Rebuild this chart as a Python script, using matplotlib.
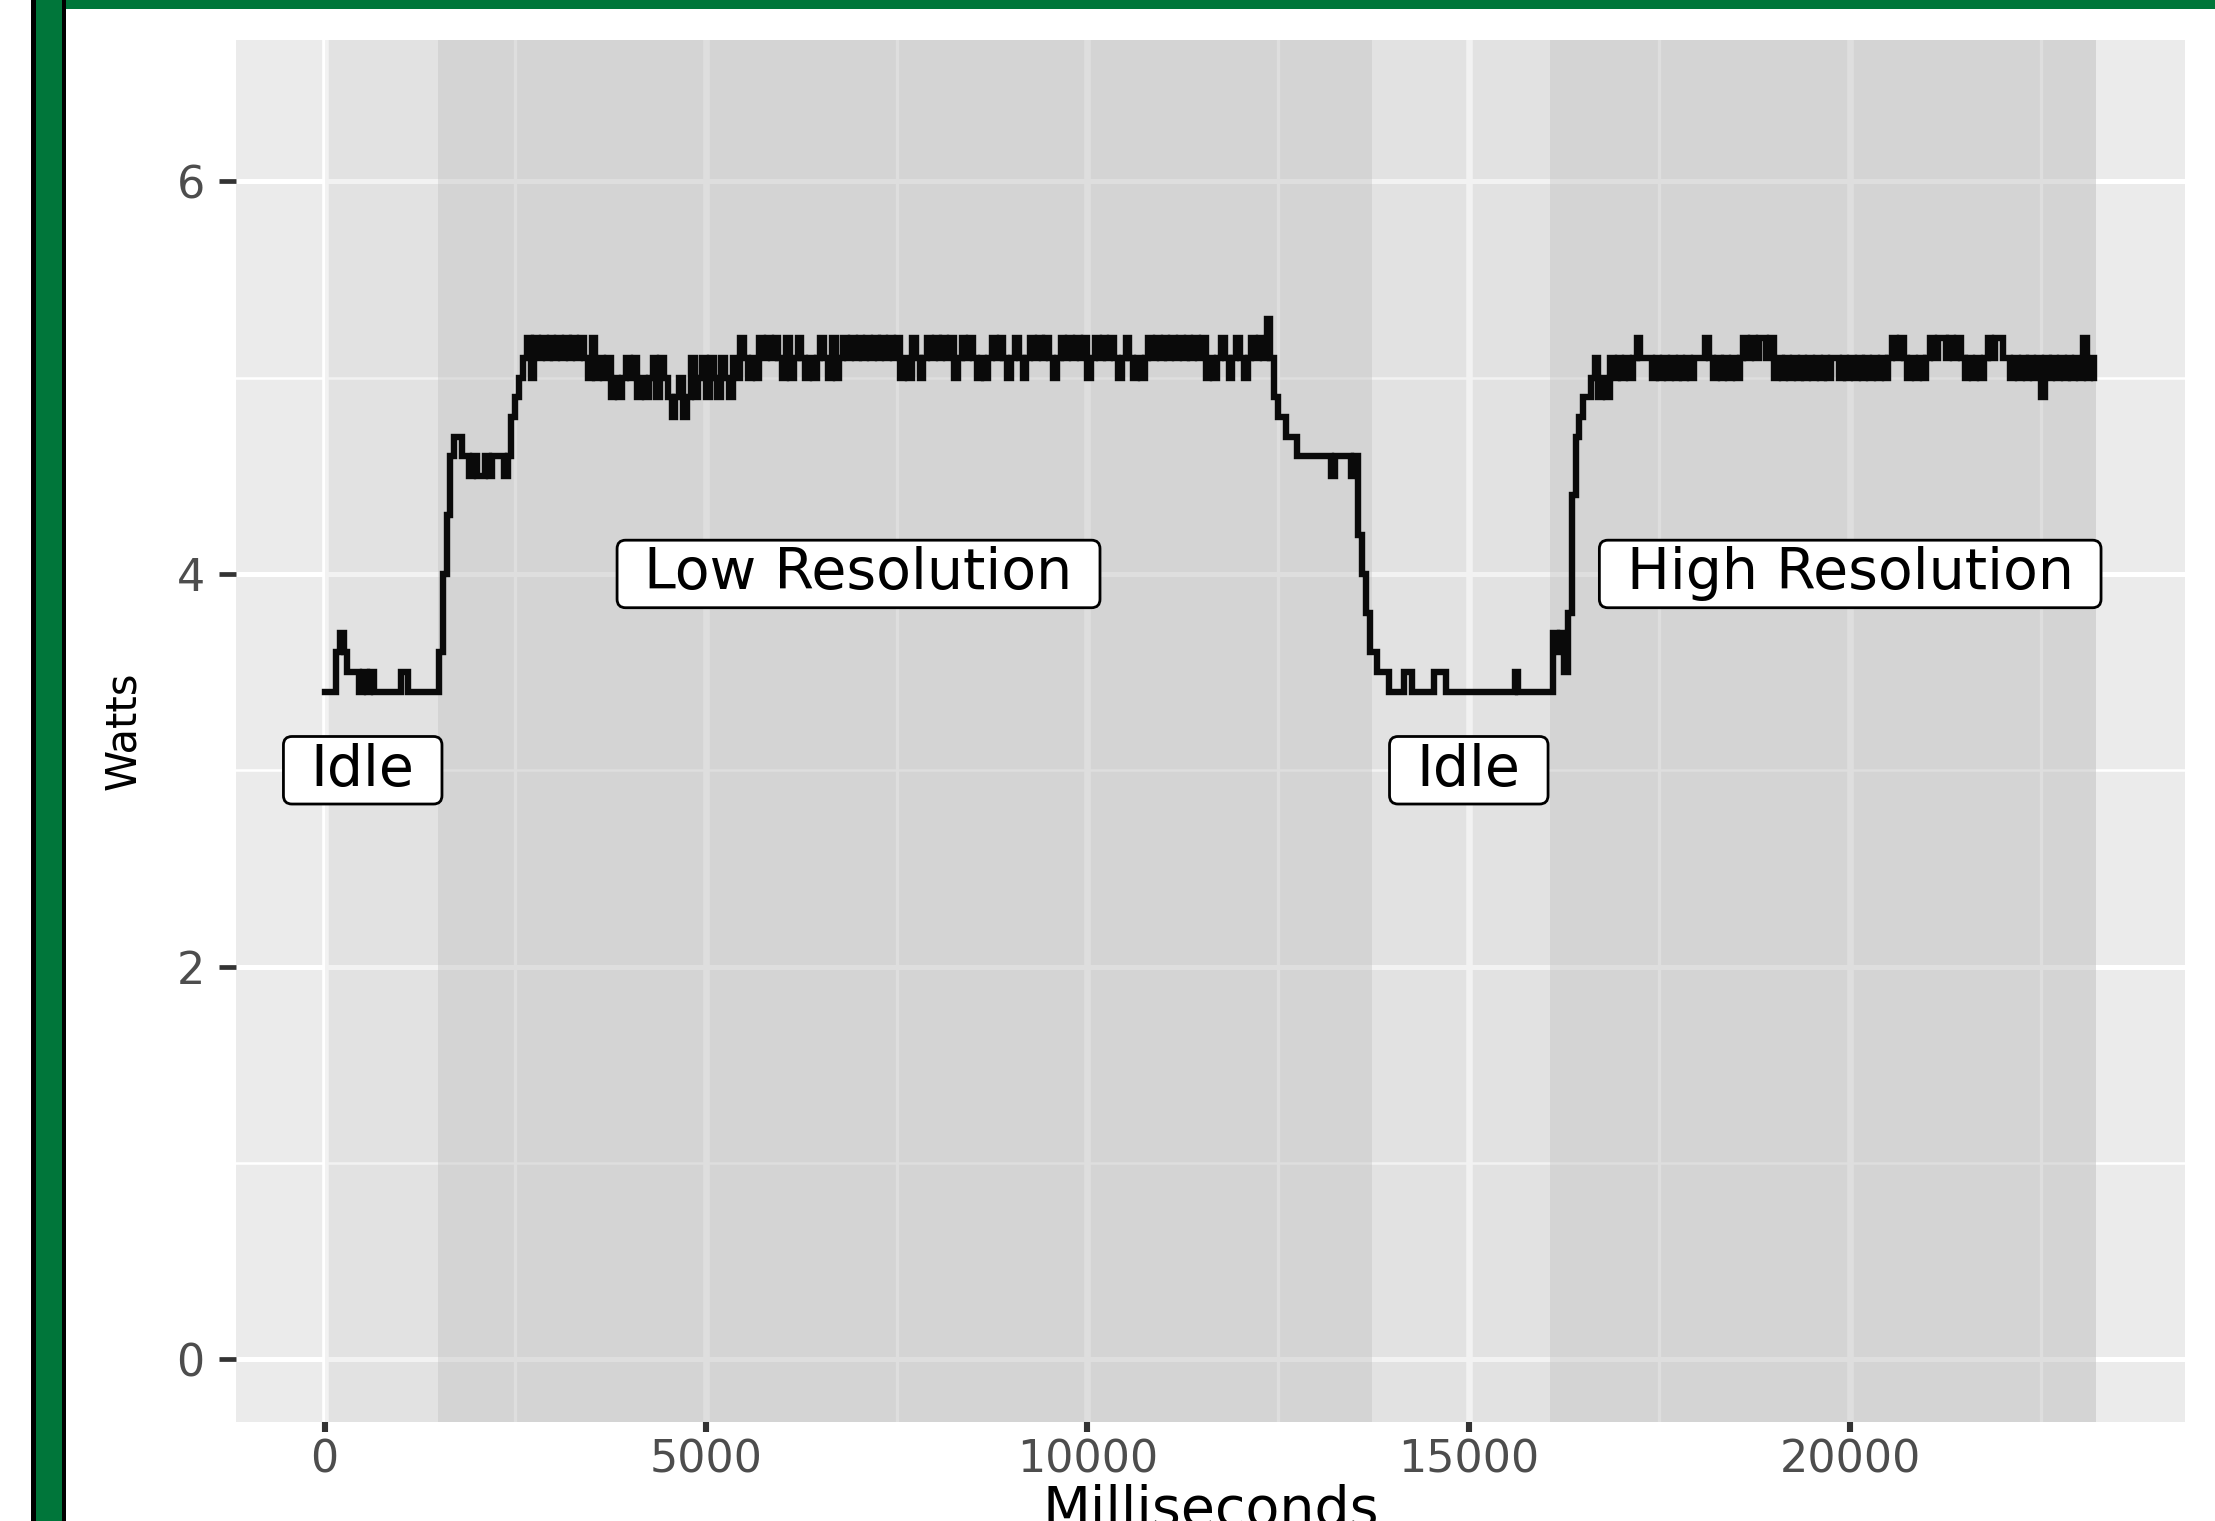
import matplotlib.pyplot as plt
from matplotlib.patches import Rectangle, BoxStyle
import numpy as np

# one power reading every 50 ms, in tenths of a watt
step_ms = 50

idle_1 = [34, 34, 34, 36, 37, 36, 35, 35, 35, 34,
          35, 34, 35, 34, 34, 34, 34, 34, 34, 34,
          35, 35, 34, 34, 34, 34, 34, 34, 34, 34]

low_res = [36, 40, 43, 46, 47, 47,
           46, 46, 45, 46, 45, 45, 46, 45, 46, 46, 46, 45, 46,
           48, 49, 50, 51, 52, 50, 52, 51, 52,
           51, 52, 51, 52, 51, 52, 51, 52, 51, 52, 51,
           50, 52,
           50, 51, 50, 51, 49, 50, 49, 50, 51, 50,
           51, 49, 50, 49, 50, 51, 49, 51, 50, 49,
           48, 49, 50, 48, 49, 51, 49, 50, 51, 49,
           51, 50, 49, 51, 50, 49, 51, 50, 52, 51,
           50, 51, 50, 52, 51, 52, 51, 52, 51, 50,
           52, 50, 51, 52, 51, 50, 51, 50, 51, 52,
           51, 50, 52, 50, 51,
           52, 51, 52, 51, 52, 51, 52, 51, 52, 51, 52, 51, 52, 51,
           52, 50, 51, 50, 52, 51, 50, 51, 52,
           51, 52, 51, 52, 51, 52,
           50, 51, 52, 51, 52, 51,
           50, 51, 50, 51, 52, 51, 52, 51,
           50, 51, 52, 51, 50, 51, 52,
           51, 52, 51, 52, 51, 50, 51,
           52, 51, 52, 51, 52, 51,
           52, 50, 51,
           52, 51, 52, 51, 52,
           51, 50, 51, 52, 51, 50, 51, 50, 51,
           52, 51, 52, 51, 52, 51, 52, 51, 52, 51, 52, 51, 52, 51,
           52, 50, 51, 50, 51, 52, 51, 50, 51, 52,
           51, 50, 51, 52, 51, 52, 51, 53, 51,
           49, 48, 48, 47, 47, 47, 46,
           46, 46, 46, 46, 46, 46, 46, 46,
           45, 46, 46, 46, 46, 45, 46]

cool_down = [42, 40, 38, 36, 36, 35, 35, 35]

idle_2 = [34, 34, 34, 34, 35, 35, 34, 34, 34, 34,
          34, 34, 35, 35, 35, 34, 34, 34, 34, 34,
          34, 34, 34, 34, 34, 34, 34, 34, 34, 34,
          34, 34, 34, 35, 34, 34, 34, 34, 34, 34,
          34, 34, 34, 37, 36, 37, 35]

high_res = [38, 44, 47, 48, 49, 49, 50, 51, 49, 50, 49, 51, 50,
            51, 50, 51, 50, 51, 52, 51, 51, 51, 50,
            51, 50, 51, 50, 51, 50, 51, 50, 51, 50, 51,
            51, 51, 52, 51, 50, 51, 50, 51, 50, 51, 50,
            51, 52, 51, 52, 51, 52, 52, 51, 52, 50,
            51, 50, 51, 50, 51, 50, 51, 50, 51, 50, 51, 50, 51, 50,
            51, 51,
            50, 51, 50, 51, 50, 51, 50, 51, 50, 51, 50, 51, 50, 51,
            52, 51, 52, 51, 50, 51, 50, 51, 50, 51,
            52, 51, 52, 52, 51, 52, 51, 52, 51,
            50, 51, 50, 51, 50, 51, 52, 51, 52, 52, 51, 51,
            50, 51, 50, 51, 50, 51, 50, 51, 49,
            51, 50, 51, 50, 51, 50, 51, 50, 51, 50, 52, 50, 51, 50]

# shaded phases (ms)
phase_start = [0, 1483, 13735, 16070]
phase_end = [1483, 13735, 16070, 23228]
phase_idle = [True, False, True, False]

label_text = ['Idle', 'Low Resolution', 'Idle', 'High Resolution']
label_x = [500, 7000, 15000, 20000]
label_y = [3, 4, 3, 4]

watts = np.array(idle_1 + low_res + cool_down + idle_2 + high_res) / 10
time_ms = np.arange(len(watts)) * step_ms

plt.rcParams['font.family'] = 'DejaVu Sans'

W, H = 2215, 1521


def label_box(x0, y0, width, height, mutation_size):
    # wider padding left/right than top/bottom, like ggplot's geom_label
    padx = 0.48 * mutation_size
    pady = 0.11 * mutation_size
    rounded = BoxStyle.Round(pad=0, rounding_size=0.15)
    return rounded(x0 - padx, y0 - pady, width + 2 * padx, height + 2 * pady,
                   mutation_size)


fig = plt.figure(figsize=(W / 100, H / 100), dpi=100)
ax = fig.add_axes([236 / W, 1 - 1422 / H, (2185 - 236) / W, (1422 - 40) / H])
ax.set_facecolor('#EBEBEB')
for s in ax.spines.values():
    s.set_visible(False)
ax.set_axisbelow(True)

for s, e, idle in zip(phase_start, phase_end, phase_idle):
    ax.axvspan(s, e, facecolor='#BEBEBE', alpha=0.2 if idle else 0.5,
               lw=0, zorder=1)

ax.plot(time_ms, watts, color='#0A0A0A', lw=4.6, drawstyle='steps-post',
        solid_joinstyle='miter', zorder=3)

for x, y, txt in zip(label_x, label_y, label_text):
    ax.text(x, y, txt, ha='center', va='center', fontsize=41, color='black',
            bbox=dict(boxstyle=label_box, fc='white', ec='black', lw=2),
            zorder=4)

ax.set_xlim(-1161, 24389)
ax.set_ylim(-0.32, 6.72)
ax.set_xticks([0, 5000, 10000, 15000, 20000])
ax.set_xticks([2500, 7500, 12500, 17500, 22500], minor=True)
ax.set_yticks([0, 2, 4, 6])
ax.set_yticks([1, 3, 5], minor=True)

ax.xaxis.grid(True, which='major', color='white', lw=4.8)
ax.xaxis.grid(True, which='minor', color='white', lw=2.4)
ax.yaxis.grid(True, which='major', color='white', lw=3.6)
ax.yaxis.grid(True, which='minor', color='white', lw=1.8)

ax.tick_params(which='minor', length=0)
ax.tick_params(axis='x', which='major', length=7.2, width=4.4,
               color='#333333', pad=5, labelsize=32, labelcolor='#4D4D4D')
ax.tick_params(axis='y', which='major', length=12, width=3.4,
               color='#333333', pad=10.5, labelsize=32, labelcolor='#4D4D4D')

ax.set_xlabel('Milliseconds', fontsize=40)
ax.xaxis.set_label_coords(0.5, -0.0449)
ax.set_ylabel('Watts', fontsize=30)
ax.yaxis.label.set_va('center')
ax.yaxis.set_label_coords(-0.058, 0.5)


def fig_rect(x0, y0, x1, y1, color):
    fig.add_artist(Rectangle((x0 / W, 1 - y1 / H), (x1 - x0) / W, (y1 - y0) / H,
                             transform=fig.transFigure, color=color, lw=0))


# green frame around the picture
fig_rect(31, 0, 66, H, 'black')
fig_rect(36, 0, 62, H, '#00763A')
fig_rect(66, 0, W, 9, '#00763A')

fig.savefig('out.png', dpi=100)
